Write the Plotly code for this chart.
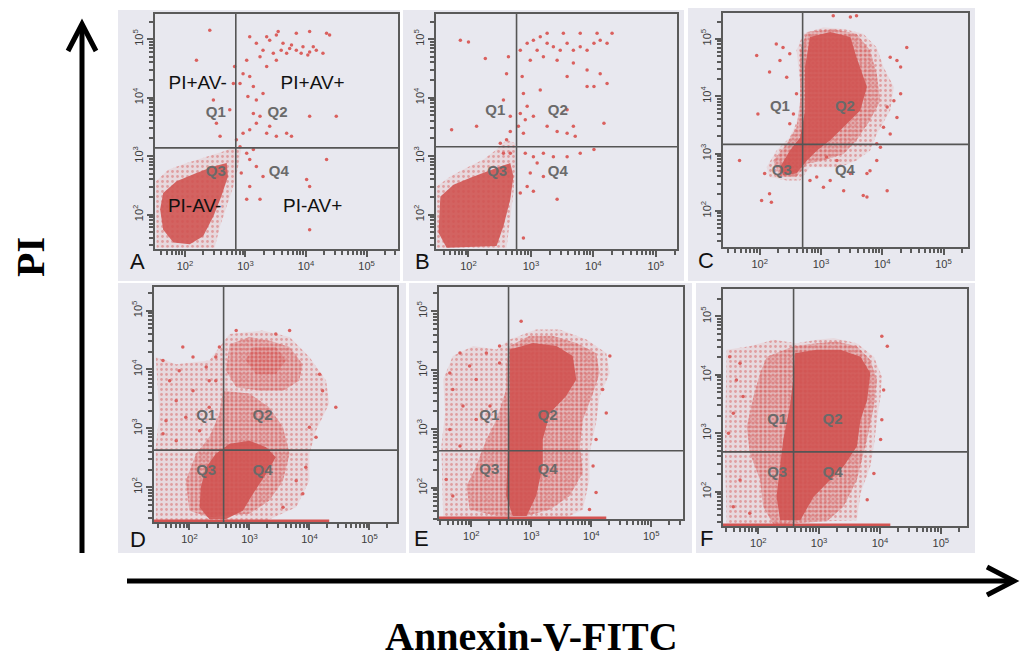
import plotly.graph_objects as go

W, H = 1024, 667
PANELS = ["A", "B", "C", "D", "E", "F"]

# ---------------- DATA (log10 fluorescence units) ----------------
GATE_X_LOG = {"A": 2.84, "B": 2.77, "C": 2.70, "D": 2.57, "E": 2.62, "F": 2.58}
GATE_Y_LOG = {"A": 3.14, "B": 3.16, "C": 3.16, "D": 2.63, "E": 2.63, "F": 2.68}
FLOOR_END_LOG = {"D": 4.33, "E": 4.25, "F": 4.17}

Q_LABELS = ["Q1", "Q2", "Q3", "Q4"]
Q_POS = {
    "A": [(2.51, 3.74), (3.53, 3.74), (2.51, 2.72), (3.55, 2.72)],
    "B": [(2.43, 3.76), (3.43, 3.76), (2.46, 2.73), (3.43, 2.73)],
    "C": [(2.33, 3.80), (3.39, 3.80), (2.36, 2.69), (3.39, 2.69)],
    "D": [(2.28, 3.20), (3.22, 3.20), (2.28, 2.27), (3.22, 2.27)],
    "E": [(2.30, 3.21), (3.27, 3.21), (2.30, 2.29), (3.27, 2.29)],
    "F": [(2.31, 3.23), (3.22, 3.23), (2.31, 2.32), (3.22, 2.32)],
}
A_PHENO_TEXT = ["PI+AV-", "PI+AV+", "PI-AV-", "PI-AV+"]
A_PHENO_POS = [(2.21, 4.23), (4.11, 4.23), (2.16, 2.12), (4.11, 2.12)]

A_halo = [(1.52, 2.57), (1.73, 2.77), (2.03, 2.88), (2.36, 2.99), (2.63, 3.08), (2.82, 3.16),
          (2.93, 3.11), (2.88, 2.82), (2.80, 2.48), (2.69, 2.14), (2.58, 1.80), (2.49, 1.43), (1.53, 1.43)]
A_core = [(1.64, 2.37), (1.86, 2.57), (2.19, 2.71), (2.47, 2.82), (2.69, 2.88), (2.71, 2.65),
          (2.60, 2.31), (2.47, 1.97), (2.30, 1.63), (2.08, 1.49), (1.81, 1.52), (1.64, 1.74), (1.59, 2.09)]
A_dots = [(3.07, 5.04), (3.18, 4.93), (3.29, 4.81), (3.40, 4.98), (3.51, 5.07), (3.62, 4.93), (3.73, 4.84),
          (3.84, 4.81), (3.95, 4.87), (4.06, 4.78), (4.17, 4.81), (4.28, 4.76), (3.84, 5.10), (4.06, 5.13),
          (4.34, 5.10), (4.39, 5.07), (3.24, 4.70), (3.02, 4.64), (2.96, 4.41), (2.91, 4.24), (3.07, 4.36),
          (3.35, 4.53), (3.51, 4.64), (3.68, 4.76), (3.92, 4.76), (3.76, 4.90), (3.59, 4.81), (3.46, 4.76),
          (3.13, 4.19), (3.04, 4.02), (3.18, 3.96), (3.29, 4.07), (4.03, 4.73), (4.12, 4.87), (3.35, 5.04),
          (3.54, 5.13), (2.85, 3.28), (2.96, 3.39), (3.07, 3.45), (3.18, 3.56), (3.24, 3.68), (3.13, 3.73),
          (3.35, 3.39), (3.51, 3.34), (3.68, 3.39), (3.76, 3.34), (3.40, 3.51), (2.91, 3.16), (3.02, 3.05),
          (3.13, 3.11), (2.52, 3.56), (2.58, 3.34), (2.19, 4.64), (2.41, 5.15), (2.47, 3.96), (2.74, 3.79),
          (2.82, 4.53), (2.80, 4.24), (3.07, 2.94), (3.18, 2.82), (3.29, 2.65), (3.07, 2.48), (3.24, 2.26),
          (4.01, 2.60), (4.06, 2.48), (4.34, 2.94), (4.50, 3.68), (4.06, 1.74), (2.93, 2.71), (3.02, 2.26),
          (4.06, 3.68)]

B_halo = [(1.49, 2.48), (1.71, 2.65), (1.97, 2.80), (2.24, 2.94), (2.45, 3.11), (2.61, 3.28), (2.75, 3.22),
          (2.75, 2.82), (2.72, 2.37), (2.67, 1.97), (2.61, 1.43), (1.49, 1.43)]
B_core = [(1.55, 2.31), (1.76, 2.51), (2.03, 2.63), (2.29, 2.74), (2.51, 2.82), (2.67, 2.88), (2.72, 2.65),
          (2.67, 2.26), (2.56, 1.80), (2.45, 1.46), (1.65, 1.43), (1.52, 1.69)]
B_dots = [(2.83, 4.81), (2.94, 4.93), (3.04, 4.98), (3.15, 5.04), (3.26, 4.93), (3.36, 4.87), (3.47, 4.81),
          (3.58, 4.93), (3.68, 4.81), (3.79, 4.87), (3.90, 4.81), (4.01, 4.93), (4.11, 4.98), (4.22, 4.93),
          (4.30, 5.10), (4.06, 5.10), (3.79, 5.10), (3.52, 5.10), (3.26, 5.10), (3.10, 4.81), (3.20, 4.70),
          (3.42, 4.64), (3.68, 4.59), (3.90, 4.47), (4.11, 4.41), (4.22, 4.24), (4.01, 4.19), (3.90, 4.19),
          (3.58, 4.36), (2.99, 4.64), (2.86, 4.36), (2.88, 4.07), (2.94, 3.85), (2.83, 3.73), (2.91, 3.62),
          (3.15, 4.13), (3.58, 3.79), (3.68, 3.51), (3.58, 3.39), (3.71, 3.34), (4.17, 3.56), (3.26, 3.51),
          (3.42, 3.42), (3.04, 3.68), (2.88, 3.39), (2.80, 3.51), (2.67, 3.42), (2.61, 3.28), (2.51, 3.22),
          (2.56, 3.05), (2.67, 3.05), (2.91, 3.05), (3.04, 2.99), (3.20, 3.05), (3.36, 2.99), (3.58, 2.99),
          (3.79, 3.05), (4.01, 3.11), (3.10, 2.88), (2.99, 2.71), (3.20, 2.65), (2.94, 2.48), (2.83, 2.37),
          (3.04, 2.40), (3.42, 2.26), (2.88, 1.60), (1.87, 4.98), (2.00, 4.95), (2.27, 4.67), (2.61, 4.41),
          (2.64, 4.70), (2.13, 3.51), (1.73, 3.45), (2.56, 3.96), (2.67, 3.68)]

C_halo = [(2.11, 2.76), (2.27, 3.05), (2.49, 3.28), (2.66, 3.69), (2.66, 4.22), (2.60, 4.80), (2.71, 5.09),
          (3.04, 5.20), (3.37, 5.17), (3.69, 5.09), (3.91, 4.85), (4.02, 4.51), (4.19, 4.16), (4.13, 3.75),
          (3.91, 3.34), (3.80, 3.05), (3.58, 2.88), (3.31, 2.76), (3.04, 2.76), (2.82, 2.76), (2.66, 2.53),
          (2.44, 2.53), (2.16, 2.59)]
C_mid = [(2.22, 2.88), (2.44, 3.17), (2.60, 3.46), (2.66, 3.92), (2.66, 4.80), (2.77, 5.12), (3.20, 5.17),
         (3.58, 5.09), (3.80, 4.80), (3.91, 4.39), (3.97, 3.92), (3.80, 3.58), (3.58, 3.23), (3.37, 2.99),
         (3.04, 2.88), (2.77, 2.82), (2.60, 2.59), (2.33, 2.59)]
C_core = [(2.33, 2.76), (2.49, 3.05), (2.66, 3.28), (2.74, 3.75), (2.74, 4.51), (2.82, 5.03), (3.15, 5.12),
          (3.48, 5.03), (3.58, 4.68), (3.75, 4.16), (3.64, 3.75), (3.37, 3.46), (3.15, 3.23), (2.93, 3.05),
          (2.77, 2.88), (2.60, 2.65), (2.38, 2.62)]
C_dots = [(2.27, 4.91), (2.38, 4.85), (2.49, 4.74), (2.33, 4.62), (2.16, 4.42), (2.44, 4.33), (1.97, 3.69),
          (2.60, 4.04), (2.55, 3.69), (2.49, 3.52), (1.95, 4.71), (2.93, 2.59), (3.04, 2.41), (3.15, 2.53),
          (3.37, 2.35), (3.48, 2.65), (3.75, 2.65), (3.91, 2.88), (4.08, 2.35), (3.69, 2.27), (3.75, 2.24),
          (3.26, 2.88), (3.09, 2.94), (2.82, 2.53), (3.80, 2.70), (1.67, 2.88), (2.16, 2.30), (2.03, 2.18),
          (2.19, 2.15), (2.08, 2.65), (4.24, 4.62), (4.40, 4.85), (4.30, 4.51), (4.13, 4.68), (4.19, 3.92),
          (4.24, 3.63), (4.08, 3.81), (4.30, 4.04), (4.02, 3.46), (4.13, 3.34), (3.91, 3.17), (3.97, 3.11),
          (3.20, 5.40), (3.48, 5.38), (3.58, 5.40)]

D_halo = [(1.44, 4.21), (1.78, 4.09), (2.33, 4.15), (2.67, 4.60), (3.22, 4.66), (3.67, 4.55), (4.00, 4.21),
          (4.28, 3.81), (4.33, 3.42), (4.11, 2.96), (4.00, 2.57), (4.00, 2.11), (3.78, 1.66), (3.28, 1.43),
          (1.44, 1.43), (1.44, 2.68), (1.50, 3.25)]
D_mid_upper = [(2.67, 4.43), (3.00, 4.55), (3.33, 4.49), (3.67, 4.38), (3.89, 4.09), (3.83, 3.81),
               (3.56, 3.64), (3.17, 3.64), (2.78, 3.70), (2.61, 3.98)]
D_mid_center = [(3.06, 4.38), (3.44, 4.38), (3.61, 4.15), (3.44, 3.92), (3.11, 3.92), (2.94, 4.15)]
D_mid_lower = [(2.56, 3.64), (3.00, 3.59), (3.33, 3.36), (3.56, 3.02), (3.67, 2.57), (3.56, 2.11),
               (3.33, 1.77), (3.00, 1.55), (2.33, 1.49), (2.00, 1.60), (1.94, 2.11), (2.11, 2.57),
               (2.33, 2.85), (2.50, 3.25)]
D_core = [(2.28, 2.34), (2.44, 2.57), (2.67, 2.74), (3.00, 2.79), (3.28, 2.68), (3.44, 2.51), (3.28, 2.23),
          (3.06, 1.89), (2.89, 1.60), (2.61, 1.46), (2.33, 1.46), (2.17, 1.66), (2.19, 2.00)]
D_dots = [(1.56, 4.15), (1.67, 3.81), (1.83, 3.98), (2.06, 4.21), (2.28, 4.04), (2.44, 4.21), (2.33, 3.81),
          (2.06, 3.64), (1.78, 3.47), (1.61, 3.13), (1.94, 3.19), (2.33, 3.36), (1.56, 2.91), (1.78, 2.79),
          (2.17, 2.96), (2.44, 3.81), (2.50, 4.38), (1.89, 4.38), (4.44, 3.36), (4.22, 3.64), (4.11, 2.85),
          (4.00, 3.02), (4.17, 3.92), (3.44, 4.60), (3.67, 4.66), (2.78, 4.66), (3.78, 2.11), (3.94, 2.34),
          (3.89, 1.89), (3.56, 1.66)]

E_halo = [(1.53, 3.84), (1.69, 4.24), (2.03, 4.41), (2.42, 4.35), (2.64, 4.52), (3.08, 4.69), (3.47, 4.69),
          (3.92, 4.52), (4.25, 4.29), (4.31, 3.95), (4.14, 3.56), (4.08, 3.10), (3.97, 2.59), (3.97, 2.14),
          (3.86, 1.63), (3.58, 1.49), (1.53, 1.49), (1.50, 2.71), (1.56, 3.27)]
E_mid = [(2.64, 4.41), (2.97, 4.58), (3.36, 4.58), (3.75, 4.46), (4.08, 4.29), (4.14, 3.95), (4.03, 3.61),
         (3.86, 3.16), (3.81, 2.71), (3.86, 2.26), (3.64, 1.86), (3.31, 1.63), (2.92, 1.52), (2.42, 1.52),
         (1.97, 1.63), (1.92, 2.03), (2.08, 2.37), (2.25, 2.82), (2.42, 3.16), (2.58, 3.67), (2.58, 4.07)]
E_core = [(2.64, 4.35), (3.03, 4.46), (3.42, 4.41), (3.69, 4.24), (3.75, 3.84), (3.58, 3.56), (3.31, 3.27),
          (3.19, 2.82), (3.19, 2.37), (3.08, 1.86), (2.92, 1.52), (2.69, 1.52), (2.58, 1.86), (2.61, 2.71),
          (2.64, 3.39), (2.64, 3.84)]
E_dots = [(1.64, 3.95), (1.81, 4.29), (1.97, 4.07), (2.08, 3.84), (2.25, 4.29), (1.69, 3.67), (1.86, 3.39),
          (1.64, 2.99), (1.81, 2.71), (2.08, 3.16), (2.31, 3.39), (2.47, 4.12), (1.58, 2.14), (1.69, 1.86),
          (2.47, 4.41), (2.83, 4.83), (4.31, 4.24), (4.19, 3.67), (4.25, 3.27), (4.08, 2.82), (4.03, 2.37),
          (4.08, 1.92), (3.97, 1.63)]

F_halo = [(1.48, 4.43), (1.86, 4.49), (2.25, 4.60), (2.63, 4.54), (2.96, 4.60), (3.24, 4.63), (3.62, 4.54),
          (3.90, 4.31), (4.03, 3.97), (4.01, 3.63), (3.95, 3.23), (3.90, 2.77), (3.84, 2.43), (3.68, 1.97),
          (3.62, 1.51), (1.48, 1.43), (1.45, 2.77), (1.47, 3.63)]
F_mid = [(2.14, 4.31), (2.58, 4.49), (2.96, 4.54), (3.29, 4.57), (3.62, 4.49), (3.84, 4.26), (3.95, 3.91),
         (3.90, 3.46), (3.81, 3.00), (3.73, 2.66), (3.62, 2.20), (3.40, 1.74), (3.13, 1.49), (2.25, 1.43),
         (2.08, 1.74), (2.03, 2.20), (1.86, 2.66), (1.81, 3.11), (1.92, 3.63), (2.03, 4.03)]
F_core = [(2.60, 4.37), (2.96, 4.43), (3.35, 4.43), (3.68, 4.31), (3.84, 4.03), (3.79, 3.57), (3.68, 3.23),
          (3.62, 2.77), (3.40, 2.43), (3.18, 2.20), (2.91, 1.91), (2.69, 1.51), (2.36, 1.51), (2.30, 1.91),
          (2.36, 2.43), (2.41, 2.89), (2.52, 3.46), (2.58, 3.97)]
F_dots = [(1.53, 4.31), (1.64, 3.91), (1.59, 3.34), (1.51, 3.00), (1.70, 4.20), (1.75, 3.63), (4.03, 4.66),
          (4.12, 4.49), (4.06, 3.74), (4.03, 3.23), (4.01, 2.89), (3.90, 2.31), (3.79, 1.86), (1.70, 2.20),
          (1.59, 1.74), (1.86, 1.63)]

HALOS = {"A": [A_halo], "B": [B_halo], "C": [C_halo], "D": [D_halo], "E": [E_halo], "F": [F_halo]}
MIDS = {"A": [], "B": [], "C": [C_mid], "D": [D_mid_upper, D_mid_center, D_mid_lower],
        "E": [E_mid], "F": [F_mid]}
CORES = {"A": [A_core], "B": [B_core], "C": [C_core], "D": [D_core], "E": [E_core], "F": [F_core]}
DOTS = {"A": A_dots, "B": B_dots, "C": C_dots, "D": D_dots, "E": E_dots, "F": F_dots}

TICK_VALS = [1e2, 1e3, 1e4, 1e5]
TICK_TEXT = ["10<sup>2</sup>", "10<sup>3</sup>", "10<sup>4</sup>", "10<sup>5</sup>"]

# ---------------- LAYOUT GEOMETRY (pixels) ----------------
BOX = {  # left, right, top, bottom of each plot frame
    "A": (155, 398, 14, 249), "B": (436, 677, 14, 249), "C": (723, 968, 13, 247),
    "D": (154, 397, 287, 522), "E": (439, 683, 287, 519), "F": (723, 967, 289, 526),
}
X_RANGE = {"A": [1.505, 5.52], "B": [1.48, 5.34], "C": [1.40, 5.40],
           "D": [1.41, 5.46], "E": [1.46, 5.53], "F": [1.42, 5.43]}
Y_RANGE = {"A": [1.41, 5.43], "B": [1.41, 5.43], "C": [1.37, 5.45],
           "D": [1.41, 5.40], "E": [1.47, 5.41], "F": [1.41, 5.47]}
PANEL_BG = {"A": (118, 400, 10, 281), "B": (403, 684, 10, 281), "C": (688, 975, 8, 281),
            "D": (118, 406, 283, 553), "E": (409, 692, 283, 553), "F": (696, 975, 283, 553)}
LETTER_POS = {"A": (137, 261), "B": (422, 262), "C": (706, 260),
              "D": (138, 539), "E": (421, 538), "F": (706, 538)}


def px(x):
    return x / W


def py(y):
    return 1 - y / H


RED = "rgb(212,84,82)"
fig = go.Figure()
layout = dict(width=W, height=H, margin=dict(l=0, r=0, t=0, b=0), autosize=False,
              paper_bgcolor="white", plot_bgcolor="#f2f2f7", showlegend=False,
              shapes=[], annotations=[])

minor_vals = [k * 10 ** d for d in range(1, 6) for k in range(2, 10)]

for i, p in enumerate(PANELS, start=1):
    sx = "" if i == 1 else str(i)
    xa, ya = "x" + sx, "y" + sx
    l, r, t, b = BOX[p]
    common = dict(type="log", showgrid=False, zeroline=False, showline=True, mirror=True,
                  linecolor="#5a5a5a", linewidth=2, ticks="outside", ticklen=6, tickwidth=2,
                  tickcolor="#5a5a5a", tickvals=TICK_VALS, ticktext=TICK_TEXT,
                  tickfont=dict(family="Arial, Liberation Sans", size=11, color="#3c3c3c"),
                  minor=dict(tickvals=minor_vals, ticks="outside", ticklen=4, tickwidth=1.5,
                             tickcolor="#5a5a5a"))
    layout["xaxis" + sx] = dict(common, domain=[px(l), px(r)], range=X_RANGE[p], anchor=ya)
    layout["yaxis" + sx] = dict(common, domain=[py(b), py(t)], range=Y_RANGE[p], anchor=xa,
                                tickangle=-90)

    bl, br, bt, bb = PANEL_BG[p]
    layout["shapes"].append(dict(type="rect", xref="paper", yref="paper", layer="below",
                                 x0=px(bl), x1=px(br), y0=py(bb), y1=py(bt),
                                 fillcolor="#e8e8ef", line=dict(width=0)))

    def poly(pts, **kw):
        xs = [10 ** a for a, _ in pts] + [10 ** pts[0][0]]
        ys = [10 ** c for _, c in pts] + [10 ** pts[0][1]]
        fig.add_trace(go.Scatter(x=xs, y=ys, mode="lines", fill="toself", line=dict(width=0),
                                 hoverinfo="skip", xaxis=xa, yaxis=ya, **kw))

    for pts in HALOS[p]:
        poly(pts, fillcolor="rgba(226,130,128,0.15)",
             fillpattern=dict(shape=".", fgcolor="rgba(214,86,84,0.9)",
                              bgcolor="rgba(226,130,128,0.15)", size=5, solidity=0.25))
    for pts in MIDS[p]:
        poly(pts, fillcolor="rgba(220,110,108,0.3)",
             fillpattern=dict(shape=".", fgcolor="rgba(210,80,78,0.95)",
                              bgcolor="rgba(220,110,108,0.3)", size=4, solidity=0.5))
    for pts in CORES[p]:
        poly(pts, fillcolor="rgba(208,82,80,0.88)")

    if p in FLOOR_END_LOG:
        y0 = 10 ** (Y_RANGE[p][0] + 0.02)
        fig.add_trace(go.Scatter(x=[10 ** X_RANGE[p][0], 10 ** FLOOR_END_LOG[p]], y=[y0, y0],
                                 mode="lines", line=dict(color=RED, width=2.5),
                                 hoverinfo="skip", xaxis=xa, yaxis=ya))

    d = DOTS[p]
    fig.add_trace(go.Scatter(x=[10 ** a for a, _ in d], y=[10 ** c for _, c in d], mode="markers",
                             marker=dict(size=3.5, color="rgb(218,96,94)", line=dict(width=0)),
                             hoverinfo="skip", xaxis=xa, yaxis=ya))

    gx, gy = 10 ** GATE_X_LOG[p], 10 ** GATE_Y_LOG[p]
    xr = [10 ** v for v in X_RANGE[p]]
    yr = [10 ** v for v in Y_RANGE[p]]
    fig.add_trace(go.Scatter(x=[gx, gx, None, xr[0], xr[1]], y=[yr[0], yr[1], None, gy, gy],
                             mode="lines", line=dict(color="#555555", width=1.6),
                             hoverinfo="skip", xaxis=xa, yaxis=ya))

    qp = Q_POS[p]
    fig.add_trace(go.Scatter(x=[10 ** a for a, _ in qp], y=[10 ** c for _, c in qp], mode="text",
                             text=["<b>%s</b>" % q for q in Q_LABELS],
                             textfont=dict(family="Arial, Liberation Sans", size=15, color="#6a6a6a"),
                             hoverinfo="skip", xaxis=xa, yaxis=ya))
    if p == "A":
        fig.add_trace(go.Scatter(x=[10 ** a for a, _ in A_PHENO_POS], y=[10 ** c for _, c in A_PHENO_POS],
                                 mode="text", text=A_PHENO_TEXT,
                                 textfont=dict(family="Arial, Liberation Sans", size=19, color="#111111"),
                                 hoverinfo="skip", xaxis=xa, yaxis=ya))

    lx, ly = LETTER_POS[p]
    layout["annotations"].append(dict(text=p, xref="paper", yref="paper", x=px(lx), y=py(ly),
                                      xanchor="center", yanchor="middle", showarrow=False,
                                      font=dict(family="Arial, Liberation Sans", size=22, color="#111111")))

# big axis arrows
ARW = dict(color="black", width=5)
layout["shapes"] += [
    dict(type="line", xref="paper", yref="paper", x0=px(82), x1=px(82), y0=py(553), y1=py(26), line=ARW),
    dict(type="path", xref="paper", yref="paper", line=ARW,
         path="M %f %f L %f %f L %f %f" % (px(68), py(51), px(82), py(24), px(96), py(51))),
    dict(type="line", xref="paper", yref="paper", x0=px(127), x1=px(1012), y0=py(581), y1=py(581), line=ARW),
    dict(type="path", xref="paper", yref="paper", line=ARW,
         path="M %f %f L %f %f L %f %f" % (px(987), py(567), px(1014), py(581), px(987), py(595))),
]
layout["annotations"] += [
    dict(text="<b>PI</b>", xref="paper", yref="paper", x=px(30), y=py(257), textangle=-90,
         xanchor="center", yanchor="middle", showarrow=False,
         font=dict(family="Liberation Serif, Times New Roman, serif", size=40, color="black")),
    dict(text="<b>Annexin-V-FITC</b>", xref="paper", yref="paper", x=px(531), y=py(636),
         xanchor="center", yanchor="middle", showarrow=False,
         font=dict(family="Liberation Serif, Times New Roman, serif", size=40, color="black")),
]

fig.update_layout(**layout)
fig.write_html("out.html", config={"displayModeBar": False},
               post_script="document.body.style.margin='0px';")
